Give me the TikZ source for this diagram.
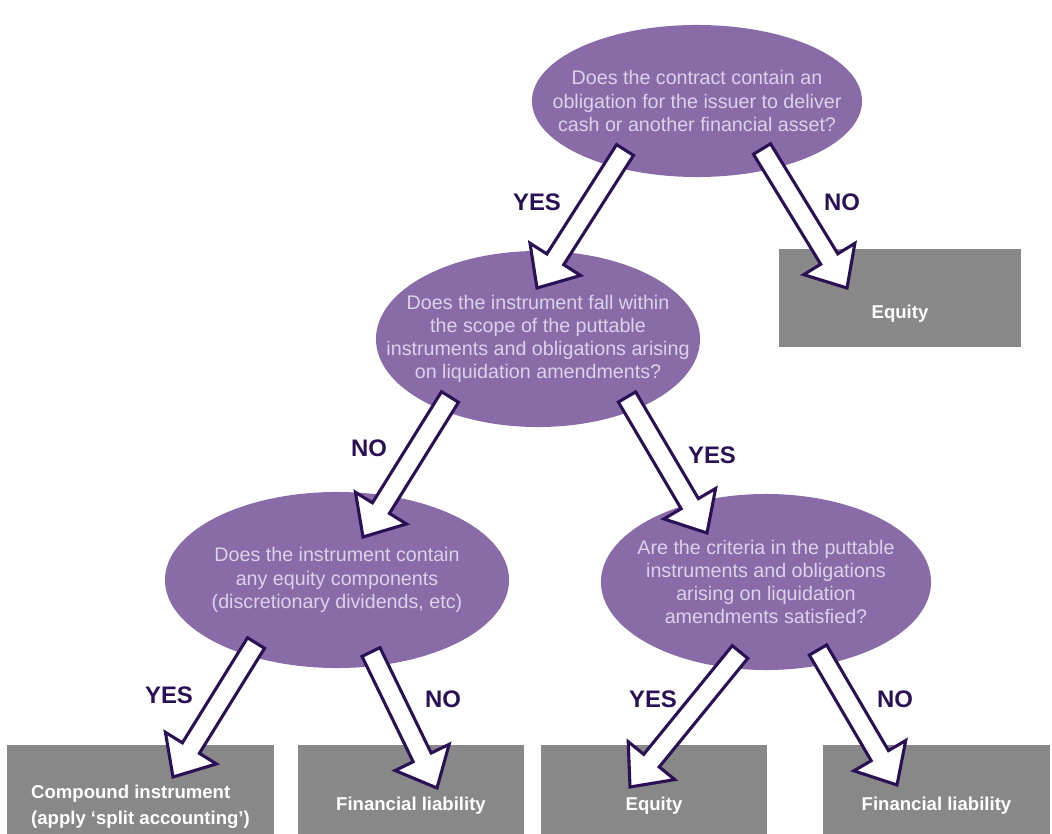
\documentclass[tikz,border=0pt]{standalone}
\usepackage{fontspec}
\setmainfont{Liberation Sans}
\usetikzlibrary{shapes.geometric,calc}

\definecolor{qpurple}{RGB}{137,107,168}
\definecolor{qtextcol}{RGB}{220,210,234}
\definecolor{darkviolet}{RGB}{42,16,84}
\definecolor{boxgray}{RGB}{136,136,136}

% hollow block arrow from tail #1 to tip #2
\newcommand{\blockarrow}[2]{%
  \coordinate (#1h) at ($(#2)!0.85cm!(#1)$);
  \draw [arrowstyle] ($(#1)!0.25cm!90:(#2)$) -- ($(#1h)!0.25cm!90:(#2)$)
    -- ($(#1h)!0.75cm!90:(#2)$) -- (#2) -- ($(#1h)!0.75cm!-90:(#2)$)
    -- ($(#1h)!0.25cm!-90:(#2)$) -- ($(#1)!0.25cm!-90:(#2)$) -- cycle;
}

\begin{document}
\begin{tikzpicture}[x=0.025cm, y=-0.025cm]
			\tikzstyle{question} = [ellipse, fill=qpurple, inner sep=0pt]
			\tikzstyle{qtext} = [align=center, text=qtextcol, font=\fontsize{14}{16.5}\selectfont]
			\tikzstyle{result} = [rectangle, fill=boxgray, inner sep=0pt]
			\tikzstyle{rtext} = [text=white, font=\bfseries\fontsize{13.2}{19}\selectfont]
			\tikzstyle{answer} = [text=darkviolet, font=\bfseries\fontsize{17}{20}\selectfont]
			\tikzstyle{arrowstyle} = [draw=darkviolet, fill=white, line width=2.2pt, line join=miter]
			
			\useasboundingbox (0,0) rectangle (1052,834);
			\clip (0,0) rectangle (1052,834);
			
			% questions
			\node [question, minimum width=8.25cm, minimum height=3.8cm,
				label={[qtext]center:{Does the contract contain an\\obligation for the issuer to deliver\\cash or another financial asset?}}] (Q1) at (697,101) {};
			\node [question, minimum width=8.1cm, minimum height=4.4cm,
				label={[qtext]center:{Does the instrument fall within\\the scope of the puttable\\instruments and obligations arising\\on liquidation amendments?}}] (Q2) at (538,339) {};
			\node [question, minimum width=8.6cm, minimum height=4.4cm,
				label={[qtext]center:{Does the instrument contain\\any equity components\\(discretionary dividends, etc)}}] (Q3) at (337,580) {};
			\node [question, minimum width=8.25cm, minimum height=4.4cm,
				label={[qtext]center:{Are the criteria in the puttable\\instruments and obligations\\arising on liquidation\\amendments satisfied?}}] (Q4) at (766,582) {};
			
			% results
			\node [result, minimum width=6.05cm, minimum height=2.45cm,
				label={[rtext,yshift=-0.38cm]center:Equity}] (R1) at (900,298) {};
			\node [result, minimum width=6.675cm, minimum height=2.225cm,
				label={[rtext,align=left,yshift=-0.43cm]center:{Compound instrument\\(apply ‘split accounting’)}}] (R2) at (140.5,789.5) {};
			\node [result, minimum width=5.65cm, minimum height=2.225cm,
				label={[rtext,yshift=-0.41cm]center:Financial liability}] (R3) at (411,789.5) {};
			\node [result, minimum width=5.65cm, minimum height=2.225cm,
				label={[rtext,yshift=-0.41cm]center:Equity}] (R4) at (654,789.5) {};
			\node [result, minimum width=5.675cm, minimum height=2.225cm,
				label={[rtext,yshift=-0.41cm]center:Financial liability}] (R5) at (936.5,789.5) {};
			
			% arrow ends
			\coordinate (s1) at (625,150);  \coordinate (t1) at (537,288);
			\coordinate (s2) at (762,149);  \coordinate (t2) at (847,288);
			\coordinate (s3) at (450,397);  \coordinate (t3) at (363,537);
			\coordinate (s4) at (627,397);  \coordinate (t4) at (707,533);
			\coordinate (s5) at (256,643);  \coordinate (t5) at (173,777);
			\coordinate (s6) at (371,652);  \coordinate (t6) at (437,788);
			\coordinate (s7) at (740,652);  \coordinate (t7) at (630,787);
			\coordinate (s8) at (818,650);  \coordinate (t8) at (897,785);
			
			\blockarrow{s1}{t1}
			\blockarrow{s2}{t2}
			\blockarrow{s3}{t3}
			\blockarrow{s4}{t4}
			\blockarrow{s5}{t5}
			\blockarrow{s6}{t6}
			\blockarrow{s7}{t7}
			\blockarrow{s8}{t8}
			
			% answers
			\node [answer] (L1) at (537,202) {YES};
			\node [answer] (L2) at (842,202) {NO};
			\node [answer] (L3) at (369,448) {NO};
			\node [answer] (L4) at (712,455) {YES};
			\node [answer] (L5) at (169,695) {YES};
			\node [answer] (L6) at (443,699) {NO};
			\node [answer] (L7) at (653,699) {YES};
			\node [answer] (L8) at (895,699) {NO};
			
\end{tikzpicture}
\end{document}
